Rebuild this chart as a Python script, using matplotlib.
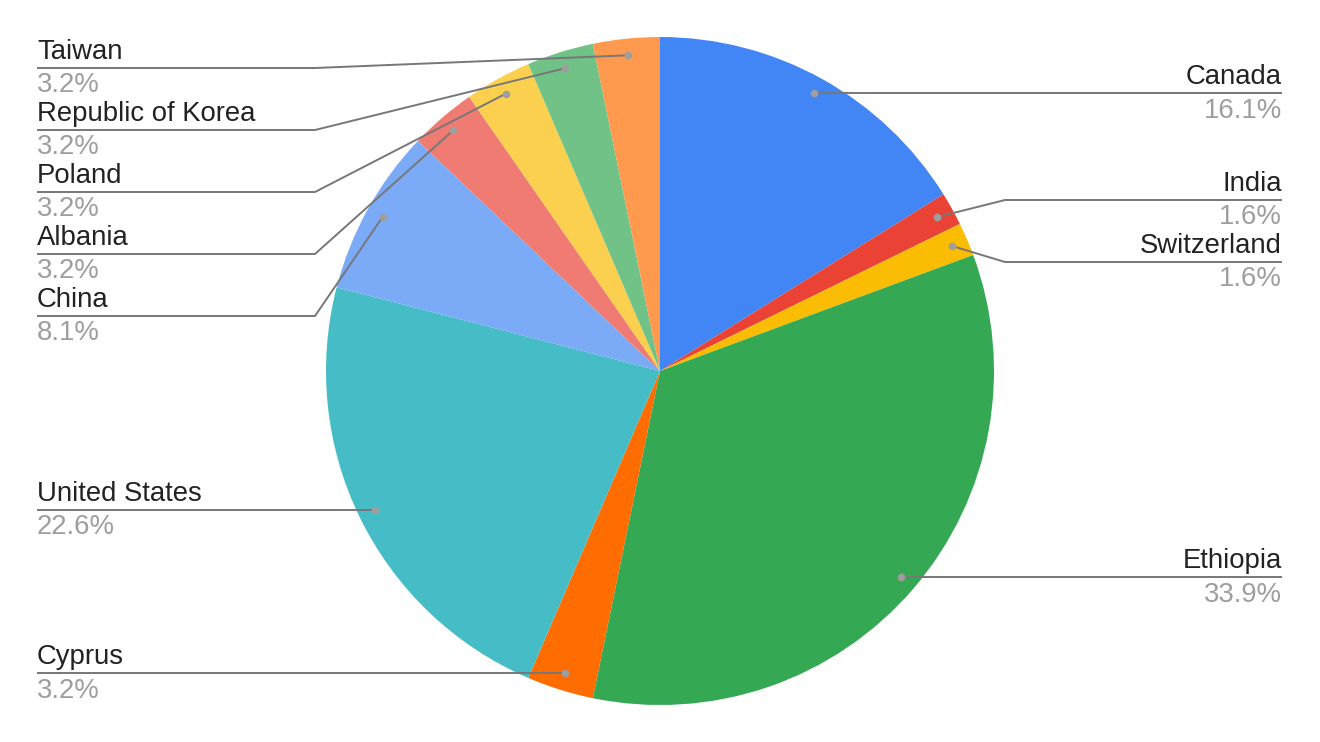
import numpy as np
import matplotlib
matplotlib.use("Agg")
import matplotlib.pyplot as plt

labels = ["Canada", "India", "Switzerland", "Ethiopia", "Cyprus", "United States",
          "China", "Albania", "Poland", "Republic of Korea", "Taiwan"]
counts = [10, 1, 1, 21, 2, 14, 5, 2, 2, 2, 2]
pct_labels = ["16.1%", "1.6%", "1.6%", "33.9%", "3.2%", "22.6%",
              "8.1%", "3.2%", "3.2%", "3.2%", "3.2%"]
colors = ["#4285F4", "#EA4335", "#FBBC04", "#34A853", "#FF6D01", "#46BDC6",
          "#7BAAF7", "#F07B72", "#FCD04F", "#71C287", "#FF994D"]
# y-position (pixels from top) of each label's underline
label_line_y = [93, 200, 262, 577, 673, 510, 316, 254, 192, 130, 68]

W, H = 1320, 742
fig = plt.figure(figsize=(W / 100, H / 100), dpi=100)
ax = fig.add_axes([0, 0, 1, 1])

def Y(y):
    return H - y

cx, cy, R = 660, 371, 334
wedges, _ = ax.pie(counts, colors=colors, startangle=90, counterclock=False,
                   center=(cx, Y(cy)), radius=R, frame=True,
                   wedgeprops=dict(linewidth=0))
ax.set_xlim(0, W)
ax.set_ylim(0, H)
ax.set_aspect("equal")
ax.axis("off")

font = "Liberation Sans"
fs = 19.8
total = sum(counts)
cum = 0
for i, c in enumerate(counts):
    mid = (cum + c / 2) / total * 2 * np.pi
    cum += c
    r = 0.95 * R
    dx = cx + r * np.sin(mid)
    dy = cy - r * np.cos(mid)
    ly = label_line_y[i]
    if abs(ly - dy) < 3:
        dy = ly
    right = np.sin(mid) > 0
    if right:
        elbow, end = 1005, 1282
        ha, tx = "right", 1282
    else:
        elbow, end = 315, 37
        ha, tx = "left", 37
    ax.plot([dx, elbow, end], [Y(dy), Y(ly), Y(ly)], color="#777777",
            lw=1.4, solid_capstyle="butt", zorder=3)
    ax.scatter([dx], [Y(dy)], s=30, color="#9e9e9e", zorder=4, linewidths=0)
    ax.text(tx, Y(ly - 9), labels[i], ha=ha, va="baseline", fontsize=fs,
            family=font, color="#222222")
    ax.text(tx, Y(ly + 24.5), pct_labels[i], ha=ha, va="baseline", fontsize=fs,
            family=font, color="#9e9e9e")

fig.savefig("out.png", dpi=100)
